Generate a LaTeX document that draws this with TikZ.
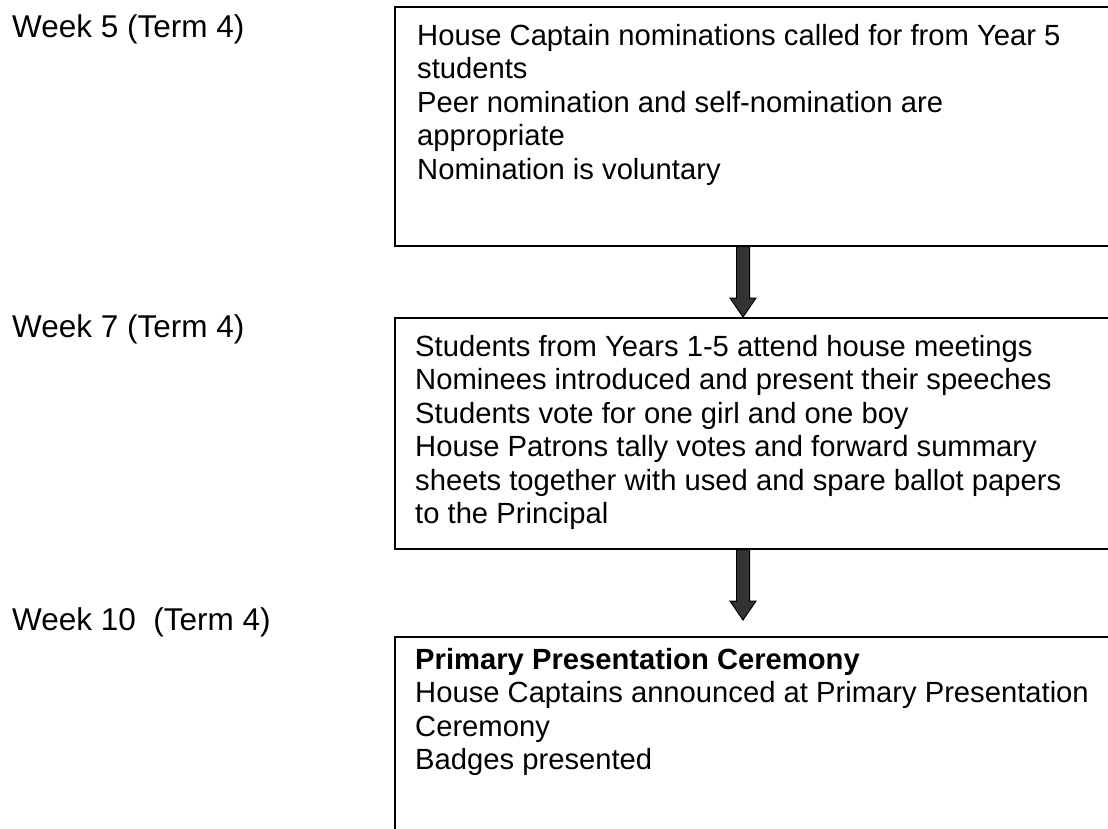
\documentclass[tikz,border=0pt]{standalone}
\usepackage{fontspec}
\setmainfont{Liberation Sans}
\usetikzlibrary{calc}
\tikzset{
  stagebox/.style={draw=black, line width=1.6pt, rectangle, anchor=north west, minimum width=760pt, inner sep=0pt},
  boxtext/.style={anchor=north west, align=left, inner sep=0pt, font=\fontsize{29.2pt}{33.5pt}\selectfont},
  weeklabel/.style={anchor=base west, inner sep=0pt, font=\fontsize{31.5pt}{36pt}\selectfont},
  fatarrow/.style={fill=black!80, draw=black, line width=1pt, line join=miter}
}
\begin{document}
\begin{tikzpicture}[x=1pt,y=-1pt]
\useasboundingbox (0,0) rectangle (1108,828);
\clip (0,0) rectangle (1108,828);
\fill[white] (0,0) rectangle (1108,828);

% boxes
\node[stagebox, minimum height=239pt] (b1) at (394,6) {};
\node[stagebox, minimum height=231pt] (b2) at (394,317) {};
\node[stagebox, minimum height=230pt] (b3) at (394,636) {};

% texts
\node[boxtext] (t1) at (417,24) {House Captain nominations called for from Year 5\\students\\Peer nomination and self-nomination are\\appropriate\\Nomination is voluntary};
\node[boxtext] (t2) at (415,335) {Students from Years 1-5 attend house meetings\\Nominees introduced and present their speeches\\Students vote for one girl and one boy\\House Patrons tally votes and forward summary\\sheets together with used and spare ballot papers\\to the Principal};
\node[boxtext] (t3) at (415,648) {\textbf{Primary Presentation Ceremony}\\House Captains announced at Primary Presentation\\Ceremony\\Badges presented};

% labels
\node[weeklabel] (w1) at (12,37) {Week 5 (Term 4)};
\node[weeklabel] (w2) at (12,337) {Week 7 (Term 4)};
\node[weeklabel] (w3) at (12,630) {Week 10\ \ (Term 4)};

% arrows
\path (b1.south west) ++(349,0) coordinate (a1s);
\coordinate (a1e) at (a1s |- b2.north);
\path (b2.south west) ++(349,0) coordinate (a2s);
\coordinate (a2e) at ($(a2s |- b3.north)+(0,-16)$);

\draw[fatarrow] ($(a1s)+(-6.5,0)$) -- ($(a1e)+(-6.5,-19)$) -- ($(a1e)+(-13,-19)$) -- (a1e)
  -- ($(a1e)+(13,-19)$) -- ($(a1e)+(6.5,-19)$) -- ($(a1s)+(6.5,0)$) -- cycle;
\draw[fatarrow] ($(a2s)+(-6.5,0)$) -- ($(a2e)+(-6.5,-19)$) -- ($(a2e)+(-13,-19)$) -- (a2e)
  -- ($(a2e)+(13,-19)$) -- ($(a2e)+(6.5,-19)$) -- ($(a2s)+(6.5,0)$) -- cycle;
\end{tikzpicture}
\end{document}
